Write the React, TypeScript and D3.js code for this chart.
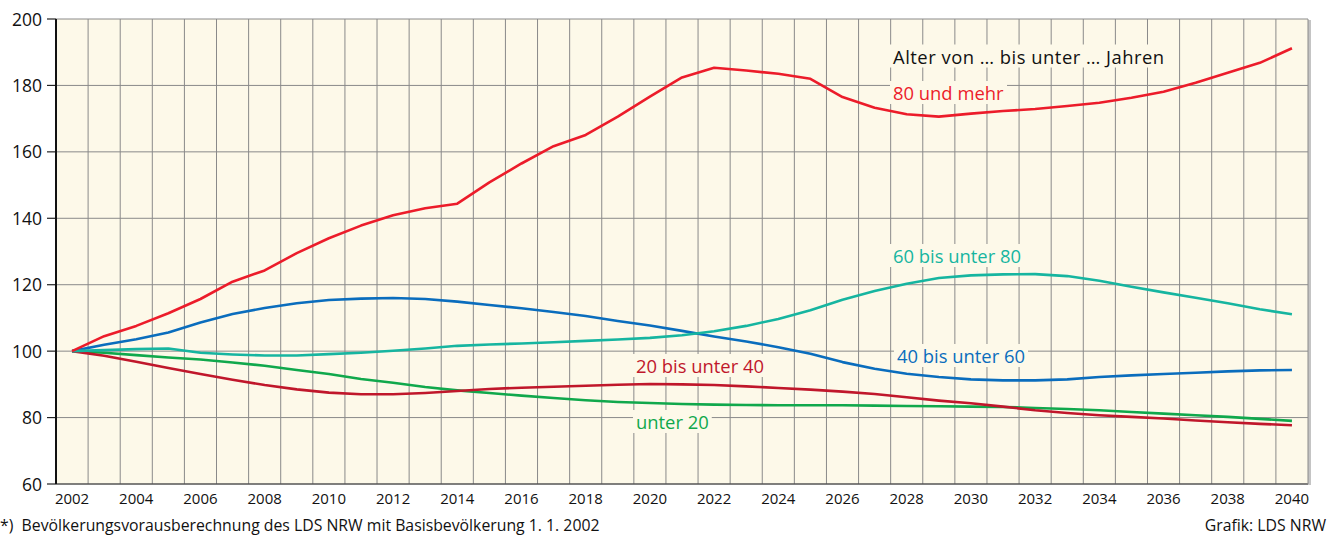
import React, { useEffect, useRef } from "react";
import * as d3 from "d3";

const years: number[] = d3.range(2002, 2041);
const yTicks: number[] = [60, 80, 100, 120, 140, 160, 180, 200];
const xTickYears: number[] = d3.range(2002, 2041, 2);

const under20: number[] = [100, 99.5, 98.8, 98.1, 97.5, 96.6, 95.6, 94.3, 93.1, 91.6, 90.5, 89.2, 88.2, 87.4, 86.6, 85.9, 85.2, 84.7, 84.4, 84.1, 83.9, 83.8, 83.7, 83.7, 83.7, 83.6, 83.5, 83.4, 83.3, 83.2, 82.9, 82.6, 82.2, 81.7, 81.2, 80.7, 80.2, 79.6, 79.0];
const age20to40: number[] = [100, 98.6, 96.8, 94.9, 93.1, 91.4, 89.8, 88.5, 87.5, 87.0, 87.0, 87.4, 88.0, 88.6, 89.0, 89.3, 89.6, 89.9, 90.1, 90.0, 89.8, 89.4, 88.9, 88.4, 87.8, 87.1, 86.1, 85.1, 84.3, 83.3, 82.2, 81.4, 80.7, 80.2, 79.7, 79.1, 78.6, 78.1, 77.7];
const age40to60: number[] = [100, 101.9, 103.6, 105.6, 108.6, 111.2, 113.0, 114.4, 115.4, 115.8, 116.0, 115.7, 114.9, 113.9, 112.9, 111.8, 110.6, 109.1, 107.7, 106.1, 104.4, 102.9, 101.2, 99.2, 96.7, 94.7, 93.2, 92.2, 91.5, 91.2, 91.2, 91.5, 92.2, 92.7, 93.1, 93.5, 93.9, 94.2, 94.3];
const age60to80: number[] = [100, 100.3, 100.6, 100.8, 99.5, 99.0, 98.7, 98.7, 99.1, 99.5, 100.1, 100.8, 101.6, 102.0, 102.3, 102.7, 103.1, 103.5, 104.0, 104.8, 106.0, 107.6, 109.7, 112.3, 115.5, 118.1, 120.3, 122.0, 122.8, 123.1, 123.2, 122.6, 121.2, 119.4, 117.7, 116.1, 114.4, 112.6, 111.1];
const age80plus: number[] = [100, 104.5, 107.6, 111.4, 115.7, 120.9, 124.3, 129.5, 134.0, 137.8, 140.9, 143.0, 144.4, 150.8, 156.5, 161.7, 165.1, 170.6, 176.6, 182.4, 185.3, 184.5, 183.5, 182.0, 176.5, 173.3, 171.3, 170.6, 171.5, 172.3, 172.9, 173.8, 174.8, 176.3, 178.1, 180.8, 183.8, 186.8, 191.2];

const seriesNames: string[] = ["unter 20", "20 bis unter 40", "40 bis unter 60", "60 bis unter 80", "80 und mehr"];
const seriesValues: number[][] = [under20, age20to40, age40to60, age60to80, age80plus];
const seriesColors: string[] = ["#10a84c", "#c0172b", "#0a6dbd", "#16b5a0", "#ec1c2a"];
const labelPos: [number, number][] = [[636, 429], [636, 373], [897, 363], [893, 263], [893, 100]];

const legendTitle = "Alter von … bis unter … Jahren";
const footnote = "*)  Bevölkerungsvorausberechnung des LDS NRW mit Basisbevölkerung 1. 1. 2002";
const credit = "Grafik: LDS NRW";

const FONT = "'Open Sans', 'Noto Sans', sans-serif";

export default function App() {
  const ref = useRef<SVGSVGElement>(null);
  useEffect(() => {
    const svg = d3.select(ref.current);
    svg.selectAll("*").remove();
    const left = 56, right = 1308, top = 19, bottom = 484;
    const x = d3.scaleBand<number>().domain(years).range([left, right]);
    const bw = x.bandwidth();
    const cx = (yr: number) => (x(yr) as number) + bw / 2;
    const y = d3.scaleLinear().domain([60, 200]).range([bottom, top]);

    svg.append("rect").attr("x", right).attr("y", top + 1).attr("width", 3).attr("height", bottom - top).attr("fill", "#c4c4c4");
    svg.append("rect").attr("x", left).attr("y", top).attr("width", right - left).attr("height", bottom - top).attr("fill", "#fdf9e9");

    const g = svg.append("g");
    years.slice(1).forEach((yr) => {
      g.append("line").attr("x1", x(yr) as number).attr("x2", x(yr) as number).attr("y1", top).attr("y2", bottom)
        .attr("stroke", "#8a8a8a").attr("stroke-width", 1);
    });
    yTicks.forEach((t) => {
      g.append("line").attr("x1", left).attr("x2", right).attr("y1", y(t)).attr("y2", y(t))
        .attr("stroke", t === 60 ? "#555" : "#8a8a8a").attr("stroke-width", t === 60 ? 1.5 : 1);
      g.append("line").attr("x1", left - 9).attr("x2", left).attr("y1", y(t)).attr("y2", y(t))
        .attr("stroke", "#222").attr("stroke-width", 1.2);
      svg.append("text").attr("x", 42).attr("y", y(t) + 6.5).attr("text-anchor", "end")
        .attr("font-family", FONT).attr("font-size", 17.5).attr("fill", "#111").text(String(t));
    });
    g.append("line").attr("x1", right).attr("x2", right).attr("y1", top).attr("y2", bottom).attr("stroke", "#8a8a8a");
    g.append("line").attr("x1", left).attr("x2", left).attr("y1", top).attr("y2", bottom).attr("stroke", "#111").attr("stroke-width", 2);

    xTickYears.forEach((yr) => {
      svg.append("text").attr("x", cx(yr)).attr("y", 503.5).attr("text-anchor", "middle")
        .attr("font-family", FONT).attr("font-size", 15).attr("fill", "#111").text(String(yr));
    });

    const labels: { text: string; x: number; y: number; color: string; ls: number }[] = [
      { text: legendTitle, x: 893, y: 63.5, color: "#111", ls: 0.5 },
      ...seriesNames.map((n, i) => ({ text: n, x: labelPos[i][0], y: labelPos[i][1], color: seriesColors[i], ls: 0 })),
    ];
    const bgLayer = svg.append("g");
    const lineLayer = svg.append("g");
    const textLayer = svg.append("g");
    labels.forEach((l) => {
      const t = textLayer.append("text").attr("x", l.x).attr("y", l.y)
        .attr("font-family", FONT).attr("font-size", 18.4).attr("letter-spacing", l.ls).attr("fill", l.color).text(l.text);
      const bb = (t.node() as SVGTextElement).getBBox();
      bgLayer.append("rect").attr("x", bb.x - 3).attr("y", bb.y + 1).attr("width", bb.width + 6).attr("height", bb.height - 2)
        .attr("fill", "#fdf9e9");
    });

    const line = d3.line<number>().x((_, i) => cx(years[i])).y((v) => y(v));
    seriesValues.forEach((vals, i) => {
      lineLayer.append("path").attr("d", line(vals) as string).attr("fill", "none")
        .attr("stroke", seriesColors[i]).attr("stroke-width", 2.6).attr("stroke-linejoin", "round");
    });

    svg.append("text").attr("x", 0).attr("y", 531).attr("font-family", FONT).attr("font-size", 15.8).attr("fill", "#111")
      .style("white-space", "pre").text(footnote);
    svg.append("text").attr("x", 1326).attr("y", 531).attr("text-anchor", "end").attr("font-family", FONT)
      .attr("font-size", 15.8).attr("fill", "#111").text(credit);
  }, []);
  return (
    <svg ref={ref} width={1333} height={541} style={{ position: "absolute", left: 0, top: 0, background: "#fff" }} />
  );
}
